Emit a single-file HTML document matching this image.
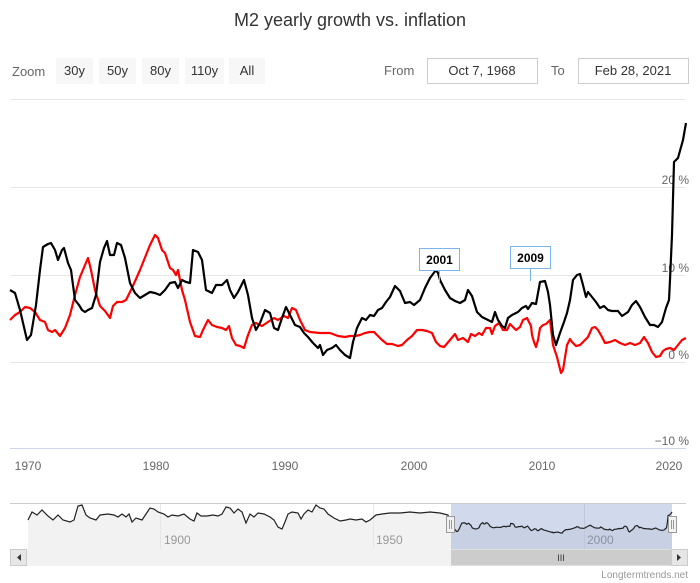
<!DOCTYPE html>
<html><head><meta charset="utf-8"><style>
body{margin:0;background:#fff;width:700px;height:583px;overflow:hidden;font-family:"Liberation Sans","DejaVu Sans",sans-serif}
svg{display:block}
</style></head><body>
<svg width="700" height="583" viewBox="0 0 700 583" xmlns="http://www.w3.org/2000/svg" font-family="Liberation Sans, DejaVu Sans, sans-serif">
<text x="350" y="26" text-anchor="middle" font-size="18" fill="#333">M2 yearly growth vs. inflation</text>
<text x="12" y="76" font-size="13" fill="#666">Zoom</text>
<g font-size="13" fill="#333">
<rect x="56" y="58" width="37" height="26" fill="#f7f7f7"/><text x="74.5" y="75" text-anchor="middle">30y</text>
<rect x="99" y="58" width="37" height="26" fill="#f7f7f7"/><text x="117.5" y="75" text-anchor="middle">50y</text>
<rect x="142" y="58" width="37" height="26" fill="#f7f7f7"/><text x="160.5" y="75" text-anchor="middle">80y</text>
<rect x="185" y="58" width="39" height="26" fill="#f7f7f7"/><text x="204.5" y="75" text-anchor="middle">110y</text>
<rect x="229" y="58" width="36" height="26" fill="#f7f7f7"/><text x="247" y="75" text-anchor="middle">All</text>
</g>
<text x="384" y="75" font-size="13" fill="#666">From</text>
<rect x="427.5" y="58.5" width="110" height="25" fill="#fff" stroke="#ccc"/>
<text x="482" y="75" text-anchor="middle" font-size="13" fill="#333">Oct 7, 1968</text>
<text x="551" y="75" font-size="13" fill="#666">To</text>
<rect x="578.5" y="58.5" width="110" height="25" fill="#fff" stroke="#ccc"/>
<text x="633" y="75" text-anchor="middle" font-size="13" fill="#333">Feb 28, 2021</text>
<g stroke="#e6e6e6" stroke-width="1">
<line x1="10" y1="99.5" x2="686" y2="99.5"/>
<line x1="10" y1="187.5" x2="686" y2="187.5"/>
<line x1="10" y1="275.5" x2="686" y2="275.5"/>
<line x1="10" y1="362.5" x2="686" y2="362.5"/>
</g>
<line x1="10" y1="448.5" x2="686" y2="448.5" stroke="#ccd6eb"/>
<g font-size="12" fill="#666" text-anchor="end">
<text x="689" y="184">20 %</text>
<text x="689" y="272">10 %</text>
<text x="689" y="359">0 %</text>
<text x="689" y="445">−10 %</text>
</g>
<g font-size="12" fill="#666" text-anchor="middle">
<text x="28" y="470">1970</text><text x="156" y="470">1980</text><text x="285" y="470">1990</text>
<text x="414" y="470">2000</text><text x="542" y="470">2010</text><text x="669" y="470">2020</text>
</g>
<polyline id="red" fill="none" stroke="#ff0000" stroke-width="2.2" stroke-linejoin="round" points="10,320 15,315 20,312 25,307 30,308 35,312 40,320 45,322 48,330 52,332 55,330 60,336 65,328 70,315 75,295 80,277 85,265 88,258 91,270 95,290 100,306 105,311 110,318 113,306 117,302 122,302 126,300 132,288 140,270 146,255 150,245 155,235 158,238 162,250 165,253 170,268 173,270 176,275 178,270 182,290 185,300 190,322 195,336 200,337 203,330 208,320 212,325 217,327 222,328 226,330 229,326 232,338 236,345 240,346 244,348 248,335 252,325 256,323 262,326 268,322 274,318 278,320 284,316 288,318 292,308 296,310 300,320 305,330 310,332 320,333 330,333 338,336 345,337 350,336 355,336 360,335 365,333 370,332 374,332 378,336 382,340 387,344 392,344 398,346 402,345 407,340 412,336 417,330 422,330 427,331 432,333 436,342 440,346 444,347 450,340 455,334 458,340 463,338 468,342 471,334 475,336 479,333 482,335 486,328 490,328 492,334 495,326 499,323 503,330 507,330 510,324 513,327 516,330 520,327 523,320 527,318 531,326 532,335 534,342 536,347 538,340 540,328 543,325 546,324 550,320 553,345 557,357 561,373 563,370 567,345 570,339 572,342 576,346 580,345 583,342 588,337 592,328 595,327 598,330 602,337 605,343 610,342 615,340 620,343 625,345 630,343 635,345 640,343 644,337 648,343 652,352 656,357 660,356 663,351 666,349 670,348 674,350 678,345 682,340 686,338"/>
<polyline id="blk" fill="none" stroke="#000" stroke-width="2.2" stroke-linejoin="round" points="10,290 15,293 20,310 27,340 31,335 36,305 40,270 43,247 48,244 51,243 55,250 58,260 62,250 64,248 68,263 71,270 75,300 79,305 82,310 85,312 88,310 92,308 96,295 100,262 104,248 107,241 110,255 114,255 117,243 121,245 125,258 130,283 135,293 140,298 145,295 150,292 155,293 160,295 165,290 170,283 175,282 178,288 182,280 186,282 190,283 193,250 198,252 202,260 206,290 212,293 216,285 222,285 227,280 230,290 234,298 238,292 244,280 248,295 252,318 256,330 260,323 265,310 270,313 274,328 278,330 282,318 286,307 290,315 295,325 300,327 304,333 308,337 313,343 318,348 320,345 323,355 327,350 332,348 336,345 340,350 345,355 350,358 353,342 357,328 362,318 366,320 370,315 374,316 378,310 382,308 386,302 390,297 395,286 400,291 405,303 410,302 414,305 420,300 425,288 430,278 436,270 438,273 440,280 445,290 450,298 455,301 460,303 465,300 468,290 472,296 477,312 482,317 488,320 492,322 495,312 498,320 502,326 505,328 508,318 512,315 518,312 522,308 526,306 528,309 532,303 536,304 540,282 545,281 548,292 550,305 553,335 556,345 560,333 564,322 567,313 570,300 573,280 577,275 580,274 583,285 586,297 588,292 592,297 596,302 600,308 604,306 608,310 612,311 618,311 622,316 628,312 632,305 636,301 640,307 645,317 650,325 654,325 658,327 662,322 666,308 669,300 670,280 672,235 674,162 678,158 683,140 686,123"/>
<g font-size="12" font-weight="bold" fill="#000">
<line x1="439.5" y1="271" x2="439.5" y2="283" stroke="#7cb5ec"/>
<rect x="419.5" y="248.5" width="40" height="22" fill="#fff" stroke="#7cb5ec"/>
<text x="439.5" y="264" text-anchor="middle">2001</text>
<line x1="530.5" y1="269" x2="530.5" y2="281" stroke="#7cb5ec"/>
<rect x="510.5" y="246.5" width="40" height="22" fill="#fff" stroke="#7cb5ec"/>
<text x="530.5" y="262" text-anchor="middle">2009</text>
</g>
<!-- navigator -->
<rect x="28" y="503" width="658" height="46" fill="#fff"/>
<path id="navfill" fill="#f2f2f2" d=""/>
<line x1="160.5" y1="503" x2="160.5" y2="549" stroke="#e6e6e6"/>
<line x1="373.5" y1="503" x2="373.5" y2="549" stroke="#e6e6e6"/>
<line x1="584.5" y1="503" x2="584.5" y2="549" stroke="#e6e6e6"/>
<g font-size="12" fill="#999"><text x="164" y="544">1900</text><text x="376" y="544">1950</text><text x="587" y="544">2000</text></g>
<rect x="451" y="503" width="221" height="46" fill="#6685c2" fill-opacity="0.3"/>
<path id="nav" fill="none" stroke="#222" stroke-width="1.2" d=""/>
<line x1="10" y1="503.5" x2="686" y2="503.5" stroke="#ccc"/>
<rect x="10.5" y="549.5" width="677" height="16" fill="#f2f2f2" stroke="#f2f2f2"/>
<rect x="10.5" y="549.5" width="16" height="16" fill="#e6e6e6" stroke="#ccc"/>
<path d="M21,554 L17,557.5 L21,561Z" fill="#333"/>
<rect x="451" y="549.5" width="221" height="16" fill="#ccc"/>
<text x="561" y="561" text-anchor="middle" font-size="9" fill="#333">III</text>
<rect x="671.5" y="549.5" width="16" height="16" fill="#e6e6e6" stroke="#ccc"/>
<path d="M677,554 L681,557.5 L677,561Z" fill="#333"/>
<g fill="#f2f2f2" stroke="#999">
<rect x="446.5" y="516.5" width="8" height="16"/><rect x="668.5" y="516.5" width="8" height="16"/>
</g>
<g stroke="#999"><line x1="449.5" y1="520" x2="449.5" y2="529"/><line x1="451.5" y1="520" x2="451.5" y2="529"/><line x1="671.5" y1="520" x2="671.5" y2="529"/><line x1="673.5" y1="520" x2="673.5" y2="529"/></g>
<text x="688" y="578" text-anchor="end" font-size="10" fill="#999">Longtermtrends.net</text>
</svg>
<script>
var left=[[28,520],[32,512],[37,515],[42,510],[48,516],[53,520],[58,515],[63,520],[70,522],[74,520],[78,506],[82,505],[86,515],[90,518],[96,520],[100,515],[108,514],[114,515],[118,517],[122,514],[126,517],[129,514],[132,522],[136,518],[142,520],[146,514],[150,508],[154,509],[158,512],[164,514],[168,517],[172,515],[178,516],[184,514],[190,519],[194,521],[197,513],[201,516],[207,516],[213,515],[218,516],[222,514],[226,507],[230,508],[234,513],[238,509],[242,512],[246,523],[250,514],[254,517],[258,513],[264,514],[270,517],[274,520],[278,527],[282,529],[285,522],[288,514],[292,512],[298,513],[301,519],[304,514],[308,510],[312,512],[316,505],[320,508],[324,509],[328,514],[334,518],[340,521],[346,520],[350,519],[356,520],[362,519],[366,522],[370,520],[376,515],[382,514],[390,513],[400,513],[410,512],[420,513],[430,512],[440,513],[448,515]];
var b=document.getElementById('blk').getAttribute('points').trim().split(/\s+/).map(function(p){var a=p.split(',');return [451+(+a[0]-10)*221/676,504+(+a[1]-123)*0.09+8];});
var pts=left.concat(b);
var d='M'+pts.map(function(p){return p[0].toFixed(1)+','+p[1].toFixed(1)}).join(' L');
document.getElementById('nav').setAttribute('d',d);
document.getElementById('navfill').setAttribute('d',d+' L'+pts[pts.length-1][0].toFixed(1)+',549 L28,549Z');
</script>
</body></html>
